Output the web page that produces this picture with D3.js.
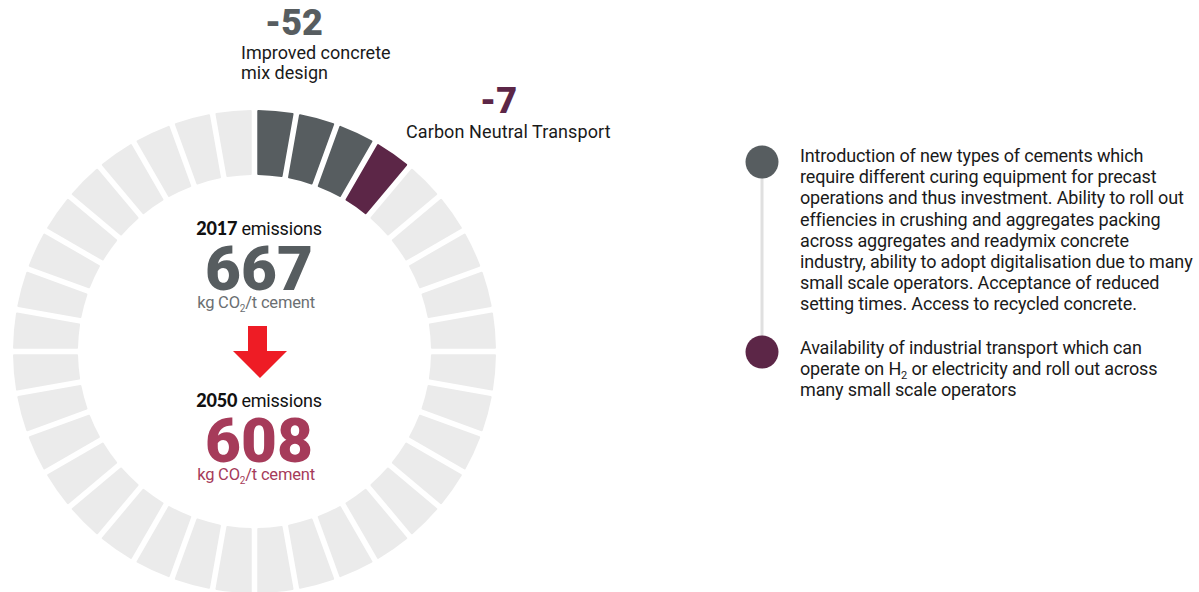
<!DOCTYPE html>
<html><head><meta charset="utf-8">
<script src="https://cdn.jsdelivr.net/npm/d3@7"></script>
<style>
html,body{margin:0;padding:0;background:#fff;}
svg text{font-family:Roboto, "Liberation Sans", sans-serif;}
</style></head>
<body>
<svg id="c" width="1199" height="592"></svg>
<script>
// ---- data ----
const years = ["2017", "2050"];
const emissions = [667, 608];
const leverNames = [["Improved concrete", "mix design"], ["Carbon Neutral Transport"]];
const leverValues = [-52, -7];
const leverColors = ["#575d60", "#5c2647"];
const segmentCount = 36;
const notes = [
  ["Introduction of new types of cements which",
   "require different curing equipment for precast",
   "operations and thus investment. Ability to roll out",
   "effiencies in crushing and aggregates packing",
   "across aggregates and readymix concrete",
   "industry, ability to adopt digitalisation due to many",
   "small scale operators. Acceptance of reduced",
   "setting times. Access to recycled concrete."],
  ["Availability of industrial transport which can",
   "operate on H|2| or electricity and roll out across",
   "many small scale operators"]
];

const svg = d3.select("#c");
const cx = 254.5, cy = 351.5, rOuter = 241.5, rInner = 176.5;

// segments assignment from values
const unit = emissions[0] / segmentCount;
const segColors = [];
leverValues.forEach((v, i) => {
  const n = Math.max(1, Math.round(Math.abs(v) / unit));
  for (let k = 0; k < n; k++) segColors.push(leverColors[i]);
});
while (segColors.length < segmentCount) segColors.push("#ebebeb");

const angle = d3.scaleLinear().domain([0, segmentCount]).range([0, 2 * Math.PI]);
const arc = d3.arc().innerRadius(rInner).outerRadius(rOuter)
  .padAngle(0.023).padRadius(rOuter).cornerRadius(1);

svg.append("g").attr("transform", `translate(${cx},${cy})`)
  .selectAll("path").data(segColors).join("path")
  .attr("d", (d, i) => arc({startAngle: angle(i), endAngle: angle(i + 1)}))
  .attr("fill", d => d);

// lever labels
const lv = svg.append("g");
lv.append("text").attr("x", 265).attr("y", 35).attr("font-size", 36).attr("font-weight", 900)
  .attr("fill", leverColors[0]).attr("font-family", "Lato").text(String(leverValues[0]));
leverNames[0].forEach((t, i) => lv.append("text").attr("x", 241).attr("y", 59 + i * 20)
  .attr("font-size", 18).attr("fill", "#1a1a1a").attr("letter-spacing", 0).text(t));
lv.append("text").attr("x", 480).attr("y", 113).attr("font-size", 36).attr("font-weight", 900)
  .attr("fill", leverColors[1]).attr("font-family", "Lato").text(String(leverValues[1]));
lv.append("text").attr("x", 406).attr("y", 138).attr("font-size", 18).attr("fill", "#1a1a1a")
  .attr("letter-spacing", 0.1).text(leverNames[1][0]);

// center
const center = svg.append("g");
const numColors = ["#575d60", "#a63b5a"];
const unitColors = ["#6b6f72", "#a63b5a"];
const yearY = [235, 407];
years.forEach((yr, i) => {
  const t = center.append("text").attr("x", 259).attr("y", yearY[i]).attr("text-anchor", "middle")
    .attr("font-size", 18).attr("fill", "#111").attr("letter-spacing", -0.2);
  t.append("tspan").attr("font-weight", 900).attr("font-family", "Lato").text(yr);
  t.append("tspan").text(" emissions");
  center.append("text").attr("x", 259).attr("y", yearY[i] + 55).attr("text-anchor", "middle")
    .attr("font-family", "Lato").attr("font-weight", 900).attr("font-size", 62)
    .attr("fill", numColors[i]).text(String(emissions[i]));
  const u = center.append("text").attr("x", 256).attr("y", yearY[i] + 73).attr("text-anchor", "middle")
    .attr("font-size", 16.5).attr("fill", unitColors[i]).attr("letter-spacing", -0.2);
  u.append("tspan").text("kg CO");
  u.append("tspan").attr("font-size", 10).attr("dy", 4).text("2");
  u.append("tspan").attr("dy", -4).text("/t cement");
});
// arrow
center.append("path")
  .attr("d", "M248,326 L267,326 L267,351 L287,351 L260,378 L233,351 L248,351 Z")
  .attr("fill", "#ee1c25");

// right notes
const rn = svg.append("g");
rn.append("line").attr("x1", 762).attr("x2", 762).attr("y1", 170).attr("y2", 345)
  .attr("stroke", "#e0e0e0").attr("stroke-width", 3);
const circY = [162, 352];
const lineStart = [162, 354];
notes.forEach((lines, i) => {
  rn.append("circle").attr("cx", 762).attr("cy", circY[i]).attr("r", 16.5).attr("fill", leverColors[i]);
  lines.forEach((ln, j) => {
    const t = rn.append("text").attr("x", 800).attr("y", lineStart[i] + j * 21.2)
      .attr("font-size", 18).attr("fill", "#1a1a1a").attr("letter-spacing", -0.15);
    const parts = ln.split("|");
    if (parts.length === 1) t.text(ln);
    else {
      t.append("tspan").text(parts[0]);
      t.append("tspan").attr("font-size", 11).attr("dy", 4).text(parts[1]);
      t.append("tspan").attr("dy", -4).text(parts[2]);
    }
  });
});
</script>
</body></html>
